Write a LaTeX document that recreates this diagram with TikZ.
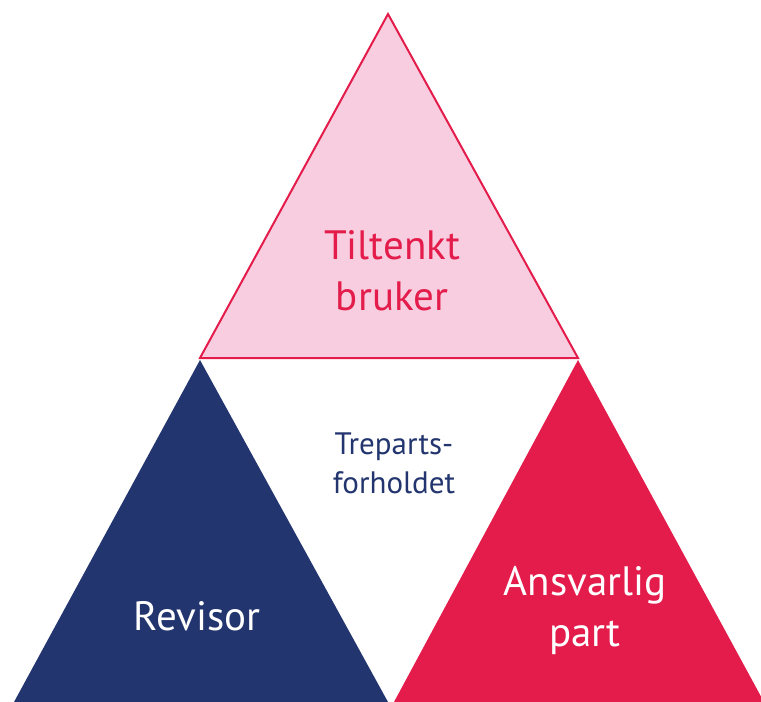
\documentclass[tikz,border=0pt]{standalone}
\usepackage{fontspec}
\setmainfont{PT Sans}
\definecolor{navyc}{RGB}{35,53,110}
\definecolor{redc}{RGB}{227,28,75}
\definecolor{pinkc}{RGB}{249,205,224}
\begin{document}
\begin{tikzpicture}[x=1pt,y=-1pt,
  lbl/.style={align=center,inner sep=0pt,font=\fontsize{41}{51}\selectfont},
  smlbl/.style={align=center,inner sep=0pt,font=\fontsize{31}{39}\selectfont}]
\useasboundingbox (0,0) rectangle (761,702);
\begin{scope}
\clip (0,0) rectangle (761,702);
\fill[pinkc] (388,14) -- (200,358) -- (578,358) -- cycle;
\draw[redc,line width=2pt,line join=miter] (388,14) -- (200,358) -- (578,358) -- cycle;
\fill[navyc] (200,360) -- (14,702) -- (388,702) -- cycle;
\fill[redc] (578,360) -- (394,702) -- (764,702) -- cycle;
\end{scope}
\node[lbl,text=redc] (user) at (392,271) {Tiltenkt\\bruker};
\node[smlbl,text=navyc] (three) at (394,463) {Treparts-\\forholdet};
\node[lbl,text=white] (rev) at (197,616) {Revisor};
\node[lbl,text=white] (party) at (585,611) {Ansvarlig\\part};
\end{tikzpicture}
\end{document}
